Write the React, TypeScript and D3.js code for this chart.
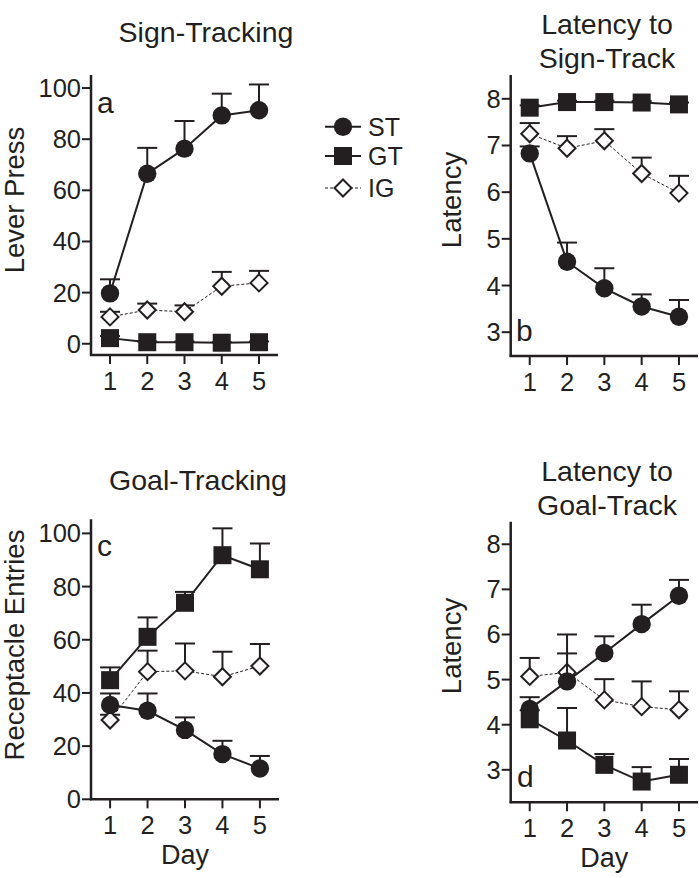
import React from 'react';
import * as d3 from 'd3';

// ---------- data ----------
const days = [1, 2, 3, 4, 5];
const groupNames = ['ST', 'GT', 'IG'];

// Panel a: Lever Press
const leverST = [19.7, 66.5, 76.3, 89.3, 91.3];
const leverSTSem = [5.5, 10.1, 10.8, 8.5, 10.1];
const leverGT = [2.2, 0.6, 0.6, 0.4, 0.6];
const leverGTSem = [0.8, 0.3, 0.3, 0.2, 0.3];
const leverIG = [10.5, 13.2, 12.5, 22.5, 23.8];
const leverIGSem = [2.0, 2.5, 2.5, 5.6, 4.7];

// Panel b: Latency to Sign-Track
const latSignST = [6.83, 4.51, 3.94, 3.55, 3.33];
const latSignSTSem = [0.15, 0.41, 0.43, 0.26, 0.36];
const latSignGT = [7.81, 7.93, 7.93, 7.92, 7.88];
const latSignGTSem = [0.05, 0.03, 0.03, 0.03, 0.04];
const latSignIG = [7.25, 6.94, 7.10, 6.40, 5.98];
const latSignIGSem = [0.23, 0.26, 0.25, 0.34, 0.37];

// Panel c: Receptacle Entries
const goalST = [35.5, 33.3, 26.1, 17.0, 11.6];
const goalSTSem = [4.3, 6.5, 4.7, 5.0, 4.7];
const goalGT = [44.8, 61.1, 73.9, 91.8, 86.5];
const goalGTSem = [4.8, 7.3, 4.1, 10.1, 9.7];
const goalIG = [29.8, 48.0, 48.3, 46.1, 50.1];
const goalIGSem = [2.0, 7.9, 10.3, 9.4, 8.3];

// Panel d: Latency to Goal-Track
const latGoalST = [4.35, 4.96, 5.59, 6.23, 6.86];
const latGoalSTSem = [0.26, 0.62, 0.37, 0.43, 0.35];
const latGoalGT = [4.12, 3.65, 3.11, 2.74, 2.89];
const latGoalGTSem = [0.2, 0.72, 0.24, 0.32, 0.35];
const latGoalIG = [5.07, 5.16, 4.55, 4.40, 4.33];
const latGoalIGSem = [0.41, 0.84, 0.46, 0.56, 0.41];

const pctTicks = [0, 20, 40, 60, 80, 100];
const latTicks = [3, 4, 5, 6, 7, 8];

const FONT = '"Liberation Sans", Arial, Helvetica, sans-serif';
const INK = '#231f20';

type Series = { name: string; values: number[]; sem: number[] };

function Marker({ type, cx, cy }: { type: string; cx: number; cy: number }) {
  if (type === 'ST') return <circle cx={cx} cy={cy} r={9.2} fill={INK} />;
  if (type === 'GT') return <rect x={cx - 9} y={cy - 9} width={18} height={18} fill={INK} />;
  const h = 8.5;
  return (
    <path
      d={`M${cx},${cy - h}L${cx + h},${cy}L${cx},${cy + h}L${cx - h},${cy}Z`}
      fill="#fff"
      stroke={INK}
      strokeWidth={2}
    />
  );
}

type PanelProps = {
  left: number;
  right: number;
  top: number;
  bottom: number;
  yDomain: [number, number];
  ticks: number[];
  series: Series[];
  yLabel: string;
  yLabelX: number;
  yLabelY: number;
  title: string[];
  titleX: number;
  titleY: number;
  letter: string;
  letterX: number;
  letterY: number;
  showDay: boolean;
};

function Panel(p: PanelProps) {
  const x = d3.scaleLinear().domain([0.49, 5.51]).range([p.left, p.right]);
  const y = d3.scaleLinear().domain(p.yDomain).range([p.bottom, p.top]);
  const line = d3
    .line<number>()
    .x((_, i) => x(days[i]))
    .y((d) => y(d));
  const order = ['IG', 'ST', 'GT'];
  return (
    <g fontFamily={FONT} fill={INK}>
      {p.title.map((t, i) => (
        <text key={t} x={p.titleX} y={p.titleY + i * 34} textAnchor="middle" fontSize={28.5}>
          {t}
        </text>
      ))}
      <text
        transform={`translate(${p.yLabelX},${p.yLabelY}) rotate(-90)`}
        textAnchor="middle"
        fontSize={27.5}
      >
        {p.yLabel}
      </text>
      {/* axes */}
      <line x1={p.left} x2={p.left} y1={p.top} y2={p.bottom + 1} stroke={INK} strokeWidth={2.5} />
      <line x1={p.left - 1} x2={p.right} y1={p.bottom} y2={p.bottom} stroke={INK} strokeWidth={2.5} />
      {p.ticks.map((t) => (
        <g key={t}>
          <line x1={p.left - 9} x2={p.left} y1={y(t)} y2={y(t)} stroke={INK} strokeWidth={2} />
          <text x={p.left - 10} y={y(t) + 9} textAnchor="end" fontSize={25.5}>
            {t}
          </text>
        </g>
      ))}
      {days.map((d) => (
        <g key={d}>
          <line x1={x(d)} x2={x(d)} y1={p.bottom} y2={p.bottom + 9} stroke={INK} strokeWidth={2} />
          <text x={x(d)} y={p.bottom + 35} textAnchor="middle" fontSize={25.5}>
            {d}
          </text>
        </g>
      ))}
      {p.showDay && (
        <text x={(x(1) + x(5)) / 2} y={p.bottom + 65} textAnchor="middle" fontSize={27}>
          Day
        </text>
      )}
      <text x={p.letterX} y={p.letterY} fontSize={30}>
        {p.letter}
      </text>
      {order.map((name) => {
        const s = p.series.find((q) => q.name === name)!;
        const dashed = name === 'IG';
        return (
          <g key={name}>
            {s.values.map((v, i) => {
              const top = y(v + s.sem[i]);
              return (
                <g key={i} stroke={INK} strokeWidth={2}>
                  <line x1={x(days[i])} x2={x(days[i])} y1={y(v)} y2={top} />
                  <line x1={x(days[i]) - 10} x2={x(days[i]) + 10} y1={top} y2={top} />
                </g>
              );
            })}
            <path
              d={line(s.values) || ''}
              fill="none"
              stroke={INK}
              strokeWidth={dashed ? 1 : 2}
              strokeDasharray={dashed ? '3,2' : undefined}
            />
            {s.values.map((v, i) => (
              <Marker key={i} type={name} cx={x(days[i])} cy={y(v)} />
            ))}
          </g>
        );
      })}
    </g>
  );
}

function Legend() {
  const lx = 343;
  const ys = [126.7, 156, 188];
  return (
    <g fontFamily={FONT} fill={INK}>
      {groupNames.map((g, i) => (
        <g key={g}>
          <line
            x1={lx - 18}
            x2={lx + 18}
            y1={ys[i]}
            y2={ys[i]}
            stroke={INK}
            strokeWidth={g === 'IG' ? 1 : 2}
            strokeDasharray={g === 'IG' ? '3,2' : undefined}
          />
          <Marker type={g} cx={lx} cy={ys[i]} />
          <text x={368} y={ys[i] + 9} fontSize={25}>
            {g}
          </text>
        </g>
      ))}
    </g>
  );
}

export default function App() {
  return (
    <svg
      width={699}
      height={878}
      style={{ position: 'absolute', left: 0, top: 0, background: '#fff' }}
    >
      <rect width={699} height={878} fill="#fff" />
      <Panel
        left={91}
        right={278}
        top={75}
        bottom={355}
        yDomain={[-4.4, 105.1]}
        ticks={pctTicks}
        series={[
          { name: 'ST', values: leverST, sem: leverSTSem },
          { name: 'GT', values: leverGT, sem: leverGTSem },
          { name: 'IG', values: leverIG, sem: leverIGSem },
        ]}
        yLabel="Lever Press"
        yLabelX={24}
        yLabelY={200}
        title={['Sign-Tracking']}
        titleX={206}
        titleY={42}
        letter="a"
        letterX={97}
        letterY={113}
        showDay={false}
      />
      <Panel
        left={510.7}
        right={698}
        top={75}
        bottom={356}
        yDomain={[2.49, 8.51]}
        ticks={latTicks}
        series={[
          { name: 'ST', values: latSignST, sem: latSignSTSem },
          { name: 'GT', values: latSignGT, sem: latSignGTSem },
          { name: 'IG', values: latSignIG, sem: latSignIGSem },
        ]}
        yLabel="Latency"
        yLabelX={461}
        yLabelY={200}
        title={['Latency to', 'Sign-Track']}
        titleX={607}
        titleY={34}
        letter="b"
        letterX={516}
        letterY={341}
        showDay={false}
      />
      <Panel
        left={91}
        right={279}
        top={519.3}
        bottom={799.3}
        yDomain={[0, 105.3]}
        ticks={pctTicks}
        series={[
          { name: 'ST', values: goalST, sem: goalSTSem },
          { name: 'GT', values: goalGT, sem: goalGTSem },
          { name: 'IG', values: goalIG, sem: goalIGSem },
        ]}
        yLabel="Receptacle Entries"
        yLabelX={24}
        yLabelY={645}
        title={['Goal-Tracking']}
        titleX={198}
        titleY={490}
        letter="c"
        letterX={97}
        letterY={556}
        showDay={true}
      />
      <Panel
        left={510.7}
        right={698}
        top={521.7}
        bottom={802.3}
        yDomain={[2.28, 8.5]}
        ticks={latTicks}
        series={[
          { name: 'ST', values: latGoalST, sem: latGoalSTSem },
          { name: 'GT', values: latGoalGT, sem: latGoalGTSem },
          { name: 'IG', values: latGoalIG, sem: latGoalIGSem },
        ]}
        yLabel="Latency"
        yLabelX={461}
        yLabelY={646}
        title={['Latency to', 'Goal-Track']}
        titleX={607}
        titleY={481}
        letter="d"
        letterX={517}
        letterY={787}
        showDay={true}
      />
      <Legend />
    </svg>
  );
}
